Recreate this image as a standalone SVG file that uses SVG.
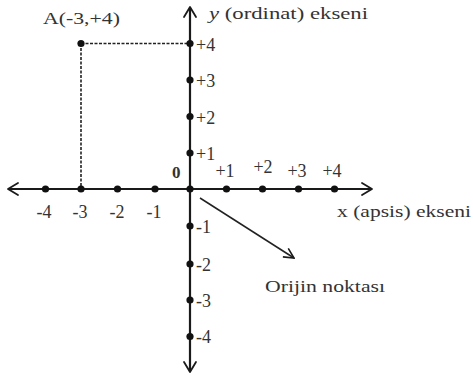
<svg xmlns="http://www.w3.org/2000/svg" width="473" height="379" viewBox="0 0 473 379">
<defs>
<style>
.ax{stroke:#1a1a1a;stroke-width:2.2;fill:none}
.hd{stroke:#1a1a1a;stroke-width:1.8;fill:none;stroke-linecap:round;stroke-linejoin:round}
.dash{stroke:#222;stroke-width:1.6;stroke-dasharray:3 1.5;fill:none}
.dot{fill:#111}
text{font-family:"Liberation Serif","Times New Roman",serif;font-size:17px;fill:#333}
.t{font-size:18px}
.b{font-weight:bold}
</style>
<marker id="ah" viewBox="0 0 12 12" refX="11" refY="6" markerWidth="12" markerHeight="12" markerUnits="userSpaceOnUse" orient="auto">
<path d="M1,1 L11,6 L1,11" fill="none" stroke="#1a1a1a" stroke-width="1.6"/>
</marker>
</defs>
<rect width="473" height="379" fill="#fff"/>
<g id="connectors">
<line class="ax" x1="9" y1="189" x2="371" y2="189"/>
<line class="ax" x1="190" y1="8" x2="190" y2="371"/>
<path class="hd" d="M18,183 L8,189 L18,195"/>
<path class="hd" d="M362,183 L372,189 L362,195"/>
<path class="hd" d="M184,17 L190,7 L196,17"/>
<path class="hd" d="M184,362 L190,372 L196,362"/>
<path class="dash" d="M81,43.5 H190 M81,43.5 V189"/>
<line x1="200" y1="198" x2="294" y2="258" stroke="#222" stroke-width="1.5" marker-end="url(#ah)"/>
</g>
<g id="x-axis-points">
<circle class="dot" cx="45.5" cy="189" r="3.6"/>
<circle class="dot" cx="81" cy="189" r="3.6"/>
<circle class="dot" cx="117.5" cy="189" r="3.6"/>
<circle class="dot" cx="155" cy="189" r="3.6"/>
<circle class="dot" cx="190" cy="189" r="3.6"/>
<circle class="dot" cx="226.5" cy="189" r="3.6"/>
<circle class="dot" cx="262.5" cy="189" r="3.6"/>
<circle class="dot" cx="298.5" cy="189" r="3.6"/>
<circle class="dot" cx="334.5" cy="189" r="3.6"/>
</g>
<g id="y-axis-points">
<circle class="dot" cx="190" cy="43.5" r="3.6"/>
<circle class="dot" cx="190" cy="80" r="3.6"/>
<circle class="dot" cx="190" cy="116.5" r="3.6"/>
<circle class="dot" cx="190" cy="153" r="3.6"/>
<circle class="dot" cx="190" cy="226" r="3.6"/>
<circle class="dot" cx="190" cy="264" r="3.6"/>
<circle class="dot" cx="190" cy="300" r="3.6"/>
<circle class="dot" cx="190" cy="336.5" r="3.6"/>
<circle class="dot" cx="81" cy="43.5" r="3.6"/>
</g>
<g id="point-A">
<text x="43" y="24" textLength="77" lengthAdjust="spacingAndGlyphs">A(-3,+4)</text>
</g>
<g id="y-axis-label">
<text x="209" y="19" textLength="159" lengthAdjust="spacingAndGlyphs"><tspan font-style="italic">y</tspan> (ordinat) ekseni</text>
</g>
<g id="x-axis-label">
<text x="337" y="217" textLength="134" lengthAdjust="spacingAndGlyphs">x (apsis) ekseni</text>
</g>
<g id="origin-label">
<text x="265" y="292" textLength="120" lengthAdjust="spacingAndGlyphs">Orijin noktası</text>
<text class="b" x="172" y="178">0</text>
</g>
<g id="x-ticks">
<text class="t" x="44" y="218" text-anchor="middle">-4</text>
<text class="t" x="80" y="218" text-anchor="middle">-3</text>
<text class="t" x="117" y="218" text-anchor="middle">-2</text>
<text class="t" x="154" y="218" text-anchor="middle">-1</text>
<text class="t" x="225" y="177" text-anchor="middle">+1</text>
<text class="t" x="263" y="173" text-anchor="middle">+2</text>
<text class="t" x="297" y="177" text-anchor="middle">+3</text>
<text class="t" x="332" y="177" text-anchor="middle">+4</text>
</g>
<g id="y-ticks">
<text class="t" x="196" y="51">+4</text>
<text class="t" x="196" y="87">+3</text>
<text class="t" x="196" y="124">+2</text>
<text class="t" x="196" y="160">+1</text>
<text class="t" x="196" y="233">-1</text>
<text class="t" x="196" y="271">-2</text>
<text class="t" x="196" y="307">-3</text>
<text class="t" x="196" y="343">-4</text>
</g>
</svg>
